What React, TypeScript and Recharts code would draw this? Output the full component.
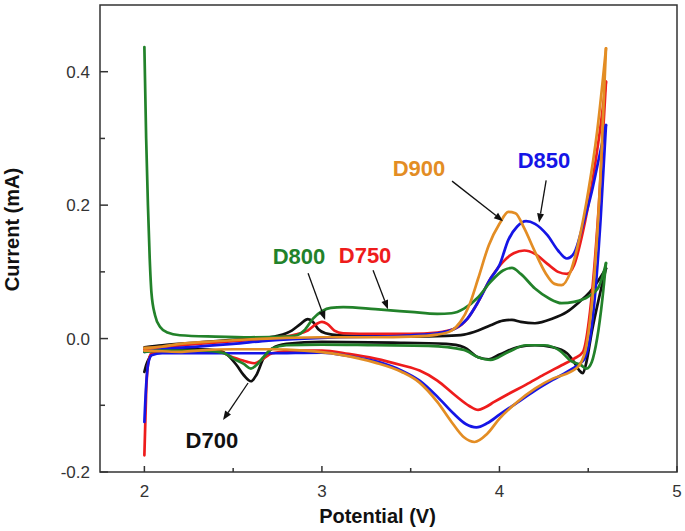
import { LineChart, Line, XAxis, YAxis, ReferenceArea, ReferenceLine, ReferenceDot } from "recharts";

type Pt = [number, number];

// potential (V), current (mA) — forward sweep then reverse sweep for each sample
const d700Fwd: Pt[] = [
  [2.0, -0.013], [2.1, -0.01], [2.3, -0.006], [2.5, -0.002], [2.65, 0.0], [2.75, 0.004], [2.83, 0.012],
  [2.88, 0.022], [2.92, 0.029], [2.95, 0.025], [2.98, 0.014], [3.02, 0.008], [3.1, 0.005], [3.3, 0.004],
  [3.5, 0.003], [3.7, 0.004], [3.8, 0.006], [3.88, 0.012], [3.95, 0.02], [4.02, 0.027], [4.07, 0.028],
  [4.12, 0.025], [4.2, 0.023], [4.3, 0.03], [4.38, 0.04], [4.45, 0.055], [4.51, 0.07], [4.56, 0.088], [4.6, 0.105],
];
const d700Rev: Pt[] = [
  [4.6, 0.105], [4.56, 0.06], [4.52, 0.01], [4.49, -0.035], [4.47, -0.052], [4.45, -0.048], [4.42, -0.035],
  [4.38, -0.022], [4.3, -0.013], [4.2, -0.01], [4.1, -0.013], [4.0, -0.024], [3.94, -0.031], [3.88, -0.028],
  [3.8, -0.013], [3.7, -0.008], [3.4, -0.006], [3.0, -0.005], [2.8, -0.008], [2.72, -0.015], [2.67, -0.03],
  [2.63, -0.055], [2.6, -0.064], [2.56, -0.055], [2.52, -0.04], [2.47, -0.025], [2.42, -0.018], [2.3, -0.016],
  [2.15, -0.016], [2.07, -0.018], [2.03, -0.028], [2.01, -0.04], [2.0, -0.05],
];

const d750Fwd: Pt[] = [
  [2.0, -0.016], [2.1, -0.013], [2.3, -0.008], [2.5, -0.004], [2.7, 0.0], [2.85, 0.006], [2.92, 0.012],
  [2.97, 0.022], [3.0, 0.025], [3.03, 0.022], [3.07, 0.012], [3.12, 0.008], [3.3, 0.007], [3.5, 0.007],
  [3.65, 0.009], [3.75, 0.015], [3.82, 0.03], [3.88, 0.055], [3.95, 0.09], [4.02, 0.115], [4.08, 0.128],
  [4.14, 0.132], [4.2, 0.127], [4.27, 0.112], [4.33, 0.1], [4.38, 0.097], [4.42, 0.11], [4.47, 0.16],
  [4.52, 0.23], [4.56, 0.3], [4.6, 0.385],
];
const d750Rev: Pt[] = [
  [4.6, 0.385], [4.56, 0.2], [4.51, 0.04], [4.47, -0.02], [4.42, -0.03], [4.35, -0.04], [4.25, -0.054],
  [4.15, -0.069], [4.05, -0.083], [3.97, -0.095], [3.92, -0.103], [3.88, -0.107], [3.83, -0.101], [3.75, -0.085],
  [3.65, -0.063], [3.55, -0.048], [3.45, -0.04], [3.3, -0.03], [3.15, -0.023], [3.0, -0.018], [2.85, -0.018],
  [2.72, -0.022], [2.66, -0.032], [2.62, -0.037], [2.58, -0.035], [2.52, -0.03], [2.48, -0.026], [2.44, -0.021],
  [2.3, -0.02], [2.1, -0.02], [2.04, -0.022], [2.02, -0.04], [2.01, -0.08], [2.0, -0.175],
];

const d850Fwd: Pt[] = [
  [2.0, -0.02], [2.1, -0.016], [2.3, -0.012], [2.5, -0.008], [2.7, -0.003], [2.9, 0.0], [3.1, 0.002],
  [3.3, 0.003], [3.5, 0.005], [3.65, 0.008], [3.75, 0.015], [3.82, 0.03], [3.88, 0.055], [3.95, 0.09],
  [4.0, 0.11], [4.05, 0.148], [4.1, 0.168], [4.15, 0.176], [4.2, 0.172], [4.27, 0.155], [4.33, 0.132],
  [4.38, 0.12], [4.42, 0.128], [4.47, 0.17], [4.52, 0.22], [4.56, 0.27], [4.6, 0.32],
];
const d850Rev: Pt[] = [
  [4.6, 0.32], [4.57, 0.18], [4.54, 0.07], [4.51, 0.0], [4.48, -0.03], [4.44, -0.04], [4.38, -0.05],
  [4.3, -0.062], [4.2, -0.078], [4.1, -0.096], [4.0, -0.114], [3.93, -0.127], [3.87, -0.133], [3.81, -0.128],
  [3.74, -0.112], [3.65, -0.087], [3.55, -0.063], [3.45, -0.048], [3.33, -0.036], [3.15, -0.026],
  [3.0, -0.021], [2.7, -0.022], [2.4, -0.022], [2.1, -0.022], [2.04, -0.025], [2.02, -0.04], [2.01, -0.07],
  [2.0, -0.125],
];

const d800Fwd: Pt[] = [
  [2.0, 0.437], [2.01, 0.3], [2.02, 0.2], [2.03, 0.12], [2.04, 0.068], [2.06, 0.035], [2.09, 0.017],
  [2.13, 0.009], [2.2, 0.005], [2.4, 0.003], [2.6, 0.002], [2.8, 0.003], [2.86, 0.005], [2.9, 0.012],
  [2.95, 0.03], [3.0, 0.041], [3.05, 0.046], [3.12, 0.047], [3.3, 0.044], [3.5, 0.04], [3.65, 0.037],
  [3.73, 0.038], [3.8, 0.045], [3.88, 0.062], [3.95, 0.085], [4.02, 0.102], [4.07, 0.106], [4.12, 0.097],
  [4.2, 0.075], [4.28, 0.06], [4.35, 0.053], [4.42, 0.055], [4.5, 0.063], [4.56, 0.078], [4.6, 0.113],
];
const d800Rev: Pt[] = [
  [4.6, 0.113], [4.58, 0.06], [4.55, 0.0], [4.52, -0.035], [4.49, -0.045], [4.46, -0.04], [4.4, -0.033],
  [4.34, -0.018], [4.25, -0.01], [4.15, -0.01], [4.05, -0.02], [3.95, -0.032], [3.88, -0.028], [3.8, -0.017],
  [3.6, -0.011], [3.3, -0.01], [3.0, -0.009], [2.8, -0.01], [2.72, -0.015], [2.67, -0.028], [2.63, -0.04],
  [2.6, -0.045], [2.56, -0.038], [2.5, -0.03], [2.45, -0.022], [2.35, -0.018], [2.1, -0.018], [2.0, -0.02],
];

const d900Fwd: Pt[] = [
  [2.0, -0.014], [2.1, -0.012], [2.2, -0.008], [2.4, -0.004], [2.6, -0.001], [2.8, 0.001], [3.0, 0.002],
  [3.3, 0.002], [3.5, 0.003], [3.65, 0.006], [3.73, 0.012], [3.78, 0.025], [3.83, 0.05], [3.88, 0.09],
  [3.94, 0.14], [4.0, 0.172], [4.05, 0.19], [4.09, 0.188], [4.14, 0.165], [4.2, 0.13], [4.26, 0.098],
  [4.31, 0.082], [4.35, 0.08], [4.4, 0.1], [4.45, 0.15], [4.5, 0.22], [4.55, 0.31], [4.6, 0.435],
];
const d900Rev: Pt[] = [
  [4.6, 0.435], [4.57, 0.25], [4.53, 0.08], [4.49, -0.01], [4.45, -0.04], [4.4, -0.05], [4.3, -0.06],
  [4.2, -0.075], [4.1, -0.095], [4.0, -0.12], [3.93, -0.143], [3.86, -0.155], [3.8, -0.148], [3.73, -0.125],
  [3.65, -0.095], [3.55, -0.066], [3.45, -0.05], [3.3, -0.036], [3.1, -0.024], [2.9, -0.018], [2.7, -0.016],
  [2.5, -0.016], [2.3, -0.018], [2.2, -0.02], [2.1, -0.019], [2.0, -0.018],
];

const samples = [
  { name: "D700", color: "#111111", fwd: d700Fwd, rev: d700Rev },
  { name: "D750", color: "#ee1c1c", fwd: d750Fwd, rev: d750Rev },
  { name: "D850", color: "#1515e6", fwd: d850Fwd, rev: d850Rev },
  { name: "D800", color: "#22822a", fwd: d800Fwd, rev: d800Rev },
  { name: "D900", color: "#e38d24", fwd: d900Fwd, rev: d900Rev },
];

// annotation text positions and arrows, in data units
const labels = [
  { text: "D700", color: "#111111", v: 2.38, i: -0.152 },
  { text: "D800", color: "#22822a", v: 2.871, i: 0.1235 },
  { text: "D750", color: "#ee1c1c", v: 3.243, i: 0.125 },
  { text: "D900", color: "#e38d24", v: 3.547, i: 0.255 },
  { text: "D850", color: "#1515e6", v: 4.251, i: 0.267 },
];
const arrows: [Pt, Pt][] = [
  [[2.584, -0.0666], [2.443, -0.122]],
  [[2.922, 0.098], [3.018, 0.028]],
  [[3.288, 0.1025], [3.372, 0.044]],
  [[3.733, 0.236], [4.02, 0.176]],
  [[4.263, 0.237], [4.223, 0.174]],
];

const xTicks = [2, 2.5, 3, 3.5, 4, 4.5, 5];
const yTicks = [-0.2, -0.1, 0, 0.1, 0.2, 0.3, 0.4];

const FONT = "'Liberation Sans', Arial, sans-serif";
const AXIS = "#333333";

const toRows = (pts: Pt[]) => pts.map(([v, i]) => ({ v, i }));

function XTick({ x, y, payload }: any) {
  const major = Number.isInteger(payload.value);
  return (
    <g>
      <line x1={x} y1={y} x2={x} y2={y - (major ? 6 : 4)} stroke={AXIS} strokeWidth={1.5} />
      {major && (
        <text x={x} y={y + 25} textAnchor="middle" fontSize={17} fill={AXIS} fontFamily={FONT}>
          {payload.value}
        </text>
      )}
    </g>
  );
}

function YTick({ x, y, payload }: any) {
  const major = Math.round(payload.value * 10) % 2 === 0;
  return (
    <g>
      <line x1={x} y1={y} x2={x + (major ? 8 : 5)} y2={y} stroke={AXIS} strokeWidth={1.5} />
      {major && (
        <text x={x - 10} y={y + 6} textAnchor="end" fontSize={17} fill={AXIS} fontFamily={FONT}>
          {payload.value.toFixed(1)}
        </text>
      )}
    </g>
  );
}

function Arrow({ x1, y1, x2, y2 }: any) {
  const a = Math.atan2(y2 - y1, x2 - x1);
  const len = 9;
  const w = 3.5;
  const bx = x2 - len * Math.cos(a);
  const by = y2 - len * Math.sin(a);
  const p1 = `${bx + w * Math.sin(a)},${by - w * Math.cos(a)}`;
  const p2 = `${bx - w * Math.sin(a)},${by + w * Math.cos(a)}`;
  return (
    <g>
      <line x1={x1} y1={y1} x2={bx} y2={by} stroke="#111" strokeWidth={1.3} />
      <polygon points={`${x2},${y2} ${p1} ${p2}`} fill="#111" />
    </g>
  );
}

export default function App() {
  return (
    <div style={{ position: "absolute", left: 0, top: 0, background: "#fff" }}>
      <LineChart width={685} height={531} margin={{ top: 5, right: 8, bottom: 0, left: 0 }}>
        <XAxis
          type="number"
          dataKey="v"
          domain={[1.75, 5]}
          ticks={xTicks}
          allowDataOverflow
          height={59}
          axisLine={false}
          tickLine={false}
          tickSize={0}
          tickMargin={0}
          interval={0}
          tick={<XTick />}
          label={{
            content: ({ viewBox }: any) => (
              <text
                x={viewBox.x + viewBox.width / 2 - 11}
                y={viewBox.y + 51}
                textAnchor="middle"
                fontSize={20}
                fontWeight="bold"
                fontFamily={FONT}
                fill="#111"
              >
                Potential (V)
              </text>
            ),
          }}
        />
        <YAxis
          type="number"
          dataKey="i"
          domain={[-0.2, 0.5]}
          ticks={yTicks}
          allowDataOverflow
          width={100}
          axisLine={false}
          tickLine={false}
          tickSize={0}
          tickMargin={0}
          interval={0}
          tick={<YTick />}
          label={{
            content: ({ viewBox }: any) => {
              const cy = viewBox.y + viewBox.height / 2 - 9;
              return (
                <text
                  x={19}
                  y={cy}
                  transform={`rotate(-90, 19, ${cy})`}
                  textAnchor="middle"
                  fontSize={20}
                  fontWeight="bold"
                  fontFamily={FONT}
                  fill="#111"
                >
                  Current (mA)
                </text>
              );
            },
          }}
        />
        <ReferenceArea x1={1.75} x2={5} y1={-0.2} y2={0.5} fill="none" stroke={AXIS} strokeWidth={1.5} ifOverflow="visible" />
        {samples.flatMap((s) =>
          [
            { key: `${s.name}-fwd`, pts: s.fwd },
            { key: `${s.name}-rev`, pts: s.rev },
          ].map((sweep) => (
            <Line
              key={sweep.key}
              data={toRows(sweep.pts)}
              dataKey="i"
              type="monotone"
              stroke={s.color}
              strokeWidth={2.7}
              strokeLinejoin="round"
              strokeLinecap="round"
              dot={false}
              activeDot={false}
              isAnimationActive={false}
            />
          ))
        )}
        {arrows.map(([from, to], k) => (
          <ReferenceLine
            key={`arrow-${k}`}
            segment={[{ x: from[0], y: from[1] }, { x: to[0], y: to[1] }]}
            ifOverflow="visible"
            shape={(p: any) => <Arrow {...p} />}
          />
        ))}
        {labels.map((l) => (
          <ReferenceDot
            key={l.text}
            x={l.v}
            y={l.i}
            r={0}
            ifOverflow="visible"
            shape={(p: any) => (
              <text
                x={p.cx}
                y={p.cy}
                dy="0.36em"
                textAnchor="middle"
                fontSize={22}
                fontWeight="bold"
                fontFamily={FONT}
                fill={l.color}
              >
                {l.text}
              </text>
            )}
          />
        ))}
      </LineChart>
    </div>
  );
}
